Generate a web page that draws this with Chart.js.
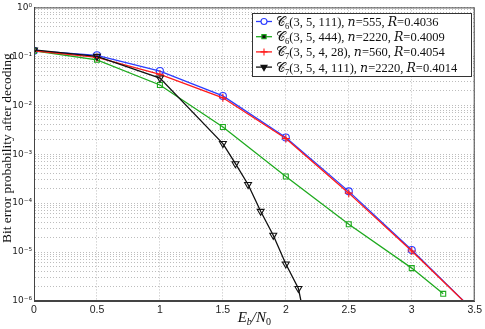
<!DOCTYPE html>
<html>
<head>
<meta charset="utf-8">
<script src="https://cdn.jsdelivr.net/npm/chart.js@4.4.0/dist/chart.umd.min.js"></script>
<style>
  html, body { margin: 0; padding: 0; background: #fff; }
  #wrap { width: 485px; height: 329px; }
</style>
</head>
<body>
<div id="wrap"><canvas id="canvas" width="485" height="329"></canvas></div>
<script>
// values
var xTicks = [0, 0.5, 1, 1.5, 2, 2.5, 3, 3.5];
var yExponents = [-6, -5, -4, -3, -2, -1, 0];

var xMain = [0, 0.5, 1, 1.5, 2, 2.5, 3, 3.5];
var c6_111 = [0.13, 0.105, 0.050, 0.0155, 0.0022, 0.000174, 0.000011, 0.0000006];
var c7_28 = [0.13, 0.095, 0.043, 0.0142, 0.0021, 0.000160, 0.0000105, 0.0000006];

var xGreen = [0, 0.5, 1, 1.5, 2, 2.5, 3, 3.25];
var c6_444 = [0.13, 0.085, 0.026, 0.0036, 0.00035, 0.000037, 0.0000047, 0.0000014];

var xBlack = [0, 0.5, 1, 1.5, 1.6, 1.7, 1.8, 1.9, 2.0, 2.1, 2.2];
var c7_111 = [0.135, 0.100, 0.036, 0.00165, 0.00064, 0.00024, 0.000068, 0.000022, 0.0000057, 0.0000018, 0.0000001];

var names = [
  "\u{1D49E}\u2086(3, 5, 111), \u{1D45B}=555, \u{1D445}=0.4036",
  "\u{1D49E}\u2086(3, 5, 444), \u{1D45B}=2220, \u{1D445}=0.4009",
  "\u{1D49E}\u2087(3, 5, 4, 28), \u{1D45B}=560, \u{1D445}=0.4054",
  "\u{1D49E}\u2087(3, 5, 4, 111), \u{1D45B}=2220, \u{1D445}=0.4014"
];

var sup = {"-": "\u207B", "0": "\u2070", "1": "\u00B9", "2": "\u00B2", "3": "\u00B3", "4": "\u2074", "5": "\u2075", "6": "\u2076"};
var subDigits = "\u2080\u2081\u2082\u2083\u2084\u2085\u2086\u2087\u2088\u2089";

function pairs(xs, ys) {
  var out = [];
  for (var i in xs) out.push({x: xs[i], y: ys[i]});
  return out;
}

var allYTicks = [];
for (var i in yExponents) {
  var e = yExponents[i];
  for (var m = 1; m <= 9; m++) {
    if (e == 0 && m > 1) break;
    allYTicks.push(m * Math.pow(10, e));
  }
}

var datasets = [
  {label: names[0], data: pairs(xMain, c6_111), borderColor: "#2b3cff",
   pointStyle: "circle", pointRadius: 3.5, order: 3},
  {label: names[1], data: pairs(xGreen, c6_444), borderColor: "#1faa1f",
   pointStyle: "rect", pointRadius: 3.5, order: 2},
  {label: names[2], data: pairs(xMain, c7_28), borderColor: "#ff1a1a",
   pointStyle: "cross", pointRadius: 4, order: 1},
  {label: names[3], data: pairs(xBlack, c7_111), borderColor: "#111111",
   pointStyle: "triangle", pointRotation: 180, pointRadius: 4, order: 0}
];
for (var d in datasets) {
  datasets[d].borderWidth = 1.3;
  datasets[d].pointBorderWidth = 1.1;
  datasets[d].backgroundColor = "rgba(0,0,0,0)";
  datasets[d].pointBorderColor = datasets[d].borderColor;
  datasets[d].pointBackgroundColor = "rgba(0,0,0,0)";
  datasets[d].tension = 0;
}

// text with unicode subscript digits drawn as real small digits
function drawRich(ctx, text, x, y, font, smallFont) {
  var chars = Array.from(text);
  for (var i = 0; i < chars.length; i++) {
    var c = chars[i];
    var k = subDigits.indexOf(c);
    if (k >= 0) {
      ctx.font = smallFont;
      ctx.fillText(String(k), x, y + 3);
      x += ctx.measureText(String(k)).width;
    } else {
      ctx.font = font;
      ctx.fillText(c, x, y);
      x += ctx.measureText(c).width;
    }
  }
}

// frame, axis titles and legend drawn on top
var decorations = {
  id: "decorations",
  afterDraw: function(chart) {
    var ctx = chart.ctx;
    var a = chart.chartArea;
    ctx.save();
    ctx.strokeStyle = "#444";
    ctx.lineWidth = 1;
    ctx.strokeRect(a.left + 0.5, a.top + 0.5, a.right - a.left - 1, a.bottom - a.top - 1);

    // y title
    ctx.fillStyle = "#111";
    ctx.font = "13.5px 'Liberation Serif', 'DejaVu Serif', serif";
    ctx.textAlign = "center";
    ctx.textBaseline = "middle";
    ctx.save();
    ctx.translate(7, (a.top + a.bottom) / 2 - 6);
    ctx.rotate(-Math.PI / 2);
    ctx.fillText("Bit error probability after decoding", 0, 0);
    ctx.restore();

    // x title E_b/N_0
    var cx = (a.left + a.right) / 2;
    var by = 322;
    ctx.textAlign = "left";
    ctx.textBaseline = "alphabetic";
    var big = "italic 15px 'Liberation Serif', serif";
    var small = "italic 10px 'Liberation Serif', serif";
    var parts = [["E", big, 0], ["b", small, 3], ["/N", big, 0], ["0", "10px 'Liberation Serif', serif", 3]];
    var w = 0;
    for (var i in parts) { ctx.font = parts[i][1]; w += ctx.measureText(parts[i][0]).width; }
    var px = cx - w / 2;
    for (var i in parts) {
      ctx.font = parts[i][1];
      ctx.fillText(parts[i][0], px, by + parts[i][2]);
      px += ctx.measureText(parts[i][0]).width;
    }

    // legend box
    var lx = 252, ly = 13, lw = 219, lh = 63;
    ctx.fillStyle = "#fff";
    ctx.fillRect(lx, ly, lw, lh);
    ctx.strokeStyle = "#333";
    ctx.strokeRect(lx + 0.5, ly + 0.5, lw, lh);
    var metas = chart.data.datasets;
    for (var k = 0; k < metas.length; k++) {
      var ds = metas[k];
      var ry = ly + 8.5 + k * 15.2;
      ctx.strokeStyle = ds.borderColor;
      ctx.lineWidth = 1.3;
      ctx.beginPath();
      ctx.moveTo(lx + 4, ry);
      ctx.lineTo(lx + 20, ry);
      ctx.stroke();
      ctx.lineWidth = 1.1;
      Chart.helpers.drawPoint(ctx, {pointStyle: ds.pointStyle, radius: ds.pointRadius - 0.5, rotation: ds.pointRotation || 0, borderWidth: 1.1}, lx + 12, ry);
      ctx.fillStyle = "#111";
      ctx.textBaseline = "alphabetic";
      drawRich(ctx, ds.label, lx + 24, ry + 4.5,
        "12.5px 'Liberation Serif', 'DejaVu Serif', serif",
        "8.5px 'Liberation Serif', serif");
    }
    ctx.restore();
  }
};

var ctx = document.getElementById("canvas").getContext("2d");

var chart = new Chart(ctx, {
  type: "line",
  data: {datasets: datasets},
  plugins: [decorations],
  options: {
    responsive: false,
    animation: false,
    layout: {padding: {top: 6, right: 4, left: 0, bottom: 0}},
    plugins: {legend: {display: false}, tooltip: {enabled: false}},
    scales: {
      x: {
        type: "linear",
        min: 0, max: 3.5,
        afterBuildTicks: function(scale) {
          scale.ticks = xTicks.map(function(v) { return {value: v}; });
        },
        afterFit: function(scale) { scale.height = 28; },
        ticks: {
          autoSkip: false, maxRotation: 0, padding: 3,
          color: "#222",
          font: {family: "'Liberation Sans', Arial, sans-serif", size: 10.5},
          callback: function(v) { return String(v); }
        },
        grid: {color: "#bdbdbd", lineWidth: 1, drawTicks: false},
        border: {display: true, color: "#444", dash: [1, 2]}
      },
      y: {
        type: "logarithmic",
        min: 1e-6, max: 1,
        afterBuildTicks: function(scale) {
          scale.ticks = allYTicks.map(function(v) { return {value: v}; });
        },
        afterFit: function(scale) { scale.width = 34; },
        ticks: {
          autoSkip: false, padding: 2,
          color: "#222",
          font: {family: "'DejaVu Sans', sans-serif", size: 9},
          callback: function(v) {
            var l = Math.log10(v);
            if (Math.abs(l - Math.round(l)) > 1e-6) return "";
            var s = String(Math.round(l)), t = "";
            for (var i = 0; i < s.length; i++) t += sup[s[i]];
            return "10" + t;
          }
        },
        grid: {color: "#bdbdbd", lineWidth: 1, drawTicks: false},
        border: {display: true, color: "#444", dash: [1, 2]}
      }
    }
  }
});
</script>
</body>
</html>
